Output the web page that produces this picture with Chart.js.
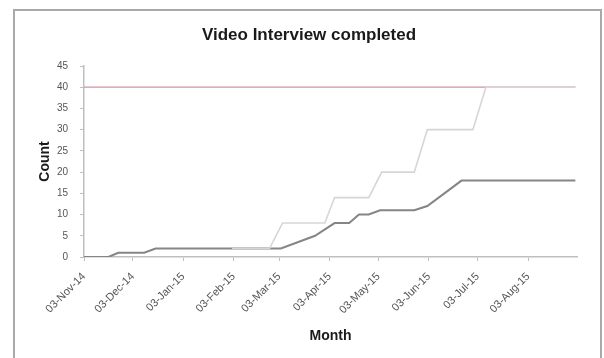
<!DOCTYPE html>
<html>
<head>
<meta charset="utf-8">
<title>Video Interview completed</title>
<script src="https://cdn.jsdelivr.net/npm/chart.js@4/dist/chart.umd.min.js"></script>
<style>
  html, body { margin: 0; padding: 0; background: #ffffff; }
  #wrap { position: relative; width: 604px; height: 358px; }
</style>
</head>
<body>
<div id="wrap"><canvas id="chart" width="604" height="358"></canvas></div>
<script>
// Series data: dates (ISO) and cumulative counts
const startDate = '2014-11-03';
const endDate = '2015-09-02';

const tickLabels = ['03-Nov-14', '03-Dec-14', '03-Jan-15', '03-Feb-15', '03-Mar-15',
                    '03-Apr-15', '03-May-15', '03-Jun-15', '03-Jul-15', '03-Aug-15'];

const targetDates = ['2014-11-03', '2015-09-01'];
const targetCounts = [40, 40];

const plannedDates = ['2015-02-02', '2015-02-25', '2015-03-05', '2015-03-31', '2015-04-06',
                      '2015-04-27', '2015-05-05', '2015-05-25', '2015-06-02', '2015-06-30',
                      '2015-07-08', '2015-09-01'];
const plannedCounts = [2, 2, 8, 8, 14, 14, 20, 20, 30, 30, 40, 40];

const completedDates = ['2014-11-03', '2014-11-18', '2014-11-24', '2014-12-10', '2014-12-17',
                        '2015-03-04', '2015-03-25', '2015-04-06', '2015-04-15', '2015-04-21',
                        '2015-04-27', '2015-05-04', '2015-05-25', '2015-06-02', '2015-06-16',
                        '2015-06-23', '2015-09-01'];
const completedCounts = [0, 0, 1, 1, 2, 2, 5, 8, 8, 10, 10, 11, 11, 12, 16, 18, 18];

const yTicks = { min: 0, max: 45, step: 5 };

// ---- helpers ----
const DAY = 86400000;
function dayOf(iso) { return (Date.parse(iso) - Date.parse(startDate)) / DAY; }
const MONTHS = { Jan: 0, Feb: 1, Mar: 2, Apr: 3, May: 4, Jun: 5, Jul: 6, Aug: 7, Sep: 8, Oct: 9, Nov: 10, Dec: 11 };
function dayOfLabel(lbl) {
  const [d, m, y] = lbl.split('-');
  return (Date.UTC(2000 + Number(y), MONTHS[m], Number(d)) - Date.parse(startDate)) / DAY;
}
function toPoints(dates, counts) { return dates.map((d, i) => ({ x: dayOf(d), y: counts[i] })); }
const tickDays = tickLabels.map(dayOfLabel);

const FONT = "'Liberation Sans', Arial, sans-serif";

// Outer frame and title
const framePlugin = {
  id: 'frame',
  beforeDraw(chart) {
    const ctx = chart.ctx;
    ctx.save();
    ctx.fillStyle = '#ffffff';
    ctx.fillRect(0, 0, chart.width, chart.height);
    ctx.strokeStyle = '#a9a9a9';
    ctx.lineWidth = 2;
    ctx.strokeRect(14, 10, 587, 400);
    ctx.restore();
  },
  afterDraw(chart) {
    const ctx = chart.ctx;
    ctx.save();
    ctx.font = 'bold 17px ' + FONT;
    ctx.fillStyle = '#1a1a1a';
    ctx.textAlign = 'center';
    ctx.textBaseline = 'middle';
    ctx.fillText('Video Interview completed', 309, 35);
    ctx.restore();
  }
};

new Chart(document.getElementById('chart'), {
  type: 'line',
  data: {
    datasets: [
      { label: 'Planned', data: toPoints(plannedDates, plannedCounts),
        borderColor: '#d6d6d6', borderWidth: 1.6, order: 0 },
      { label: 'Completed', data: toPoints(completedDates, completedCounts),
        borderColor: '#858585', borderWidth: 2, order: 1 },
      { label: 'Target', data: toPoints(targetDates, targetCounts),
        borderColor: '#d4909a', borderWidth: 1.3, order: 2 }
    ]
  },
  options: {
    responsive: false,
    animation: false,
    layout: { padding: { top: 66, right: 27, left: 0, bottom: 0 } },
    elements: { point: { radius: 0 }, line: { tension: 0, fill: false } },
    plugins: { legend: { display: false }, tooltip: { enabled: false } },
    scales: {
      x: {
        type: 'linear',
        min: 0,
        max: dayOf(endDate),
        afterBuildTicks(scale) { scale.ticks = tickDays.map(v => ({ value: v })); },
        afterFit(scale) {
          scale.height = 101;
          scale.paddingLeft = 0; scale.paddingRight = 0;
          scale.paddingTop = 0; scale.paddingBottom = 0;
        },
        grid: { drawOnChartArea: false, drawTicks: true, tickLength: 4, color: '#bfbfbf' },
        border: { color: '#bfbfbf', width: 1.5 },
        ticks: {
          autoSkip: false, minRotation: 45, maxRotation: 45, padding: 9,
          color: '#555555', font: { family: FONT, size: 11 },
          callback: (v, i) => tickLabels[i]
        },
        title: { display: true, text: 'Month', color: '#1a1a1a',
                 font: { family: FONT, size: 14, weight: 'bold' }, padding: { top: 0, bottom: 13 } }
      },
      y: {
        min: yTicks.min,
        max: yTicks.max,
        afterFit(scale) {
          scale.width = 84;
          scale.paddingTop = 0; scale.paddingBottom = 0;
        },
        grid: { drawOnChartArea: false, drawTicks: true, tickLength: 4, color: '#bfbfbf' },
        border: { color: '#bfbfbf', width: 1.5 },
        ticks: { stepSize: yTicks.step, padding: 12, color: '#555555',
                 font: { family: FONT, size: 10 } },
        title: { display: true, text: 'Count', color: '#1a1a1a',
                 font: { family: FONT, size: 14, weight: 'bold' }, padding: { top: 37, bottom: 0 } }
      }
    }
  },
  plugins: [framePlugin]
});
</script>
</body>
</html>
